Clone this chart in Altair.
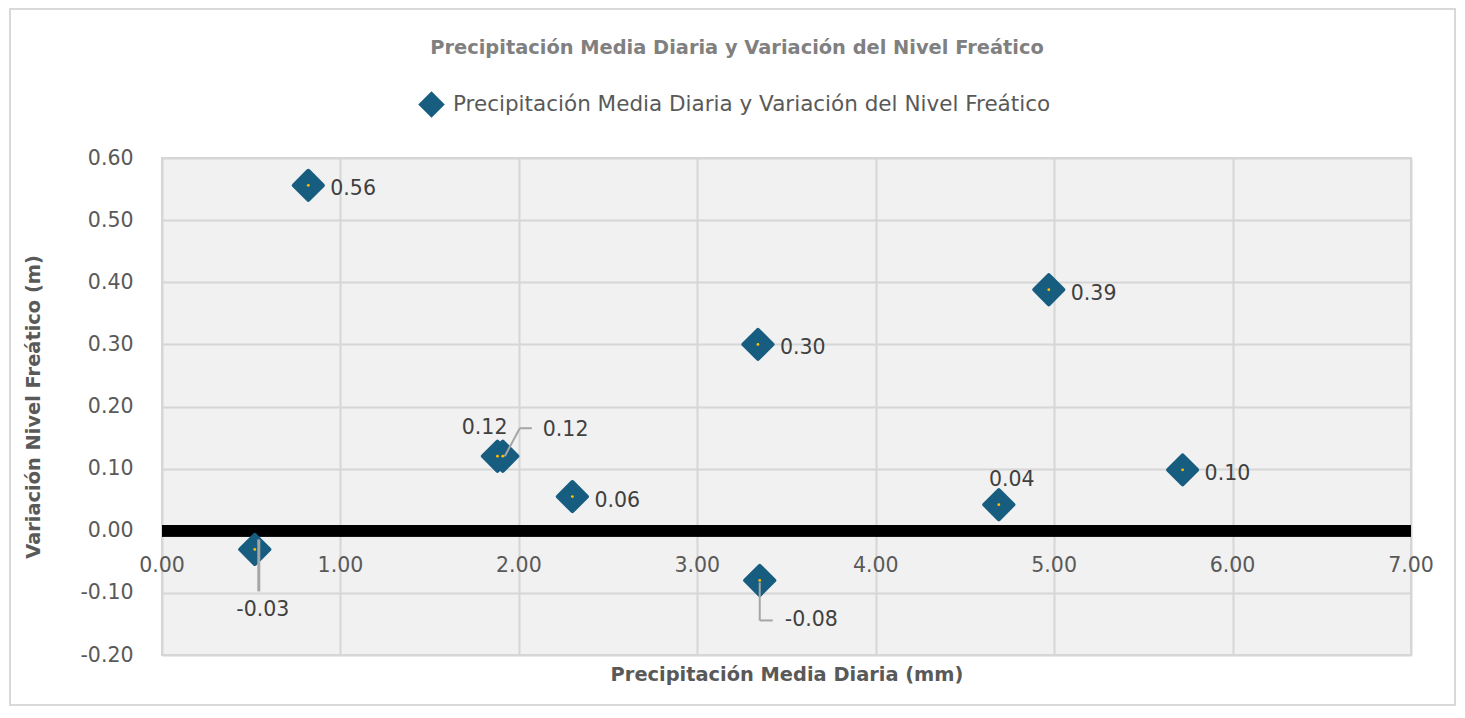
import altair as alt
import pandas as pd

# ---- data ----
precip = [0.52, 0.82, 1.88, 1.91, 2.30, 3.34, 3.35, 4.97, 4.69, 5.72]
nivel = [-0.03, 0.556, 0.12, 0.12, 0.055, 0.30, -0.08, 0.388, 0.042, 0.098]
etiquetas = ["-0.03", "0.56", "0.12", "0.12", "0.06", "0.30", "-0.08", "0.39", "0.04", "0.10"]
ubicacion = ["below", "right", "upleft", "upright", "right", "right", "downright", "right", "above", "right"]
x_ticks = [0, 1, 2, 3, 4, 5, 6, 7]
y_ticks = [-0.2, -0.1, 0.0, 0.1, 0.2, 0.3, 0.4, 0.5, 0.6]

serie = "Precipitación Media Diaria y Variación del Nivel Freático"
titulo = "Precipitación Media Diaria y Variación del Nivel Freático"
x_title = "Precipitación Media Diaria (mm)"
y_title = "Variación Nivel Freático (m)"

df = pd.DataFrame({"x": precip, "y": nivel, "lab": etiquetas, "pos": ubicacion, "serie": serie})
ticks_df = pd.DataFrame({"t": x_ticks})
title_df = pd.DataFrame({"txt": [titulo]})

FONT = "DejaVu Sans"
FS = 20.5
W, H = 1249, 497
BLUE = "#175d80"
GRAY_TXT = "#595959"

xs = alt.Scale(domain=[0, 7], nice=False)
ys = alt.Scale(domain=[-0.2, 0.6], nice=False)

base = alt.Chart(df)

# outer chart-area border
border = alt.Chart(ticks_df).mark_rect(fill=None, stroke="#d9d9d9", strokeWidth=2).encode(
    x=alt.value(-152), x2=alt.value(1293), y=alt.value(-149), y2=alt.value(547)
)

title_mark = alt.Chart(title_df).mark_text(
    font=FONT, fontSize=19.4, fontWeight="bold", color="#808080", align="center", baseline="middle"
).encode(x=alt.value(575), y=alt.value(-110), text="txt:N")

# axes frame (grid)
grid = alt.Chart(ticks_df).mark_point(opacity=0).encode(
    x=alt.X("t:Q", scale=xs, axis=alt.Axis(
        values=x_ticks, labels=False, ticks=False, domain=False, grid=True,
        gridColor="#d6d6d6", gridWidth=2, title=x_title, titleFont=FONT,
        titleFontSize=19.4, titleFontWeight="bold", titleColor=GRAY_TXT, titlePadding=10)),
    y=alt.Y("t:Q", scale=ys, axis=alt.Axis(
        values=y_ticks, labelExpr="replace(format(datum.value, '.2f'), '\u2212', '-')",
        ticks=False, domain=False, grid=True,
        gridColor="#d6d6d6", gridWidth=2, labelFont=FONT, labelFontSize=FS,
        labelColor=GRAY_TXT, labelPadding=29, title=y_title, titleFont=FONT,
        titleFontSize=19.4, titleFontWeight="bold", titleColor=GRAY_TXT,
        titleX=-129, titleY=H / 2, titleBaseline="middle")),
)

zero_line = alt.Chart(ticks_df).mark_rule(color="black", strokeWidth=11).encode(
    y=alt.datum(0), x=alt.value(0), x2=alt.value(W)
)

x_labels = alt.Chart(ticks_df).mark_text(
    font=FONT, fontSize=FS, color=GRAY_TXT, baseline="middle", dy=35
).encode(x=alt.X("t:Q", scale=xs), y=alt.datum(0), text=alt.Text("t:Q", format=".2f"))

points = base.mark_point(
    shape="diamond", filled=True, size=850, strokeWidth=4, strokeJoin="round", opacity=1
).encode(
    x=alt.X("x:Q", scale=xs),
    y=alt.Y("y:Q", scale=ys),
    color=alt.Color("serie:N", scale=alt.Scale(range=[BLUE]), legend=alt.Legend(
        title=None, orient="none", legendX=256, legendY=-67, symbolType="diamond",
        symbolSize=700, symbolOpacity=1, labelFont=FONT, labelFontSize=21.5, labelColor=GRAY_TXT,
        symbolStrokeWidth=0, labelLimit=900, labelOffset=8)),
    stroke=alt.value(BLUE),
)

dots = base.mark_point(shape="circle", filled=True, size=8, color="#ffc000", opacity=1).encode(
    x=alt.X("x:Q", scale=xs), y=alt.Y("y:Q", scale=ys)
)

def lbl(pos, dx, dy, align="left"):
    return base.transform_filter(alt.datum.pos == pos).mark_text(
        font=FONT, fontSize=FS, color="#404040", align=align, baseline="middle", dx=dx, dy=dy
    ).encode(x=alt.X("x:Q", scale=xs), y=alt.Y("y:Q", scale=ys), text="lab:N")

labels = alt.layer(
    lbl("right", 22, 4),
    lbl("below", 8, 61, "center"),
    lbl("above", 13, -25, "center"),
    lbl("upleft", 10, -28, "right"),
    lbl("upright", 40, -26),
    lbl("downright", 25, 40),
)

LEAD = "#a6a6a6"
lead1 = base.transform_filter(alt.datum.pos == "below").mark_rule(
    color=LEAD, strokeWidth=3, xOffset=4, yOffset=-10, x2Offset=4, y2Offset=42
).encode(x=alt.X("x:Q", scale=xs), x2="x:Q", y=alt.Y("y:Q", scale=ys), y2="y:Q")
lead2a = base.transform_filter(alt.datum.pos == "downright").mark_rule(
    color=LEAD, strokeWidth=2, yOffset=2, y2Offset=40
).encode(x=alt.X("x:Q", scale=xs), x2="x:Q", y=alt.Y("y:Q", scale=ys), y2="y:Q")
lead2b = base.transform_filter(alt.datum.pos == "downright").mark_rule(
    color=LEAD, strokeWidth=2, yOffset=40, y2Offset=40, x2Offset=13
).encode(x=alt.X("x:Q", scale=xs), x2="x:Q", y=alt.Y("y:Q", scale=ys), y2="y:Q")
lead3a = base.transform_filter(alt.datum.pos == "upright").mark_rule(
    color=LEAD, strokeWidth=2, xOffset=2, yOffset=0, x2Offset=17, y2Offset=-28
).encode(x=alt.X("x:Q", scale=xs), x2="x:Q", y=alt.Y("y:Q", scale=ys), y2="y:Q")
lead3b = base.transform_filter(alt.datum.pos == "upright").mark_rule(
    color=LEAD, strokeWidth=2, xOffset=17, yOffset=-28, x2Offset=29, y2Offset=-28
).encode(x=alt.X("x:Q", scale=xs), x2="x:Q", y=alt.Y("y:Q", scale=ys), y2="y:Q")

chart = alt.layer(
    border, title_mark, grid, zero_line, x_labels, points, dots,
    lead1, lead2a, lead2b, lead3a, lead3b, labels
).properties(
    width=W, height=H,
    background="white",
    autosize=alt.AutoSizeParams(type="none"),
    padding={"left": 154, "top": 150, "right": 46, "bottom": 53},
).configure_view(fill="#f1f1f1", stroke="#d6d6d6", strokeWidth=2)

chart.save("out.html", embed_options={"renderer": "svg", "actions": False})
